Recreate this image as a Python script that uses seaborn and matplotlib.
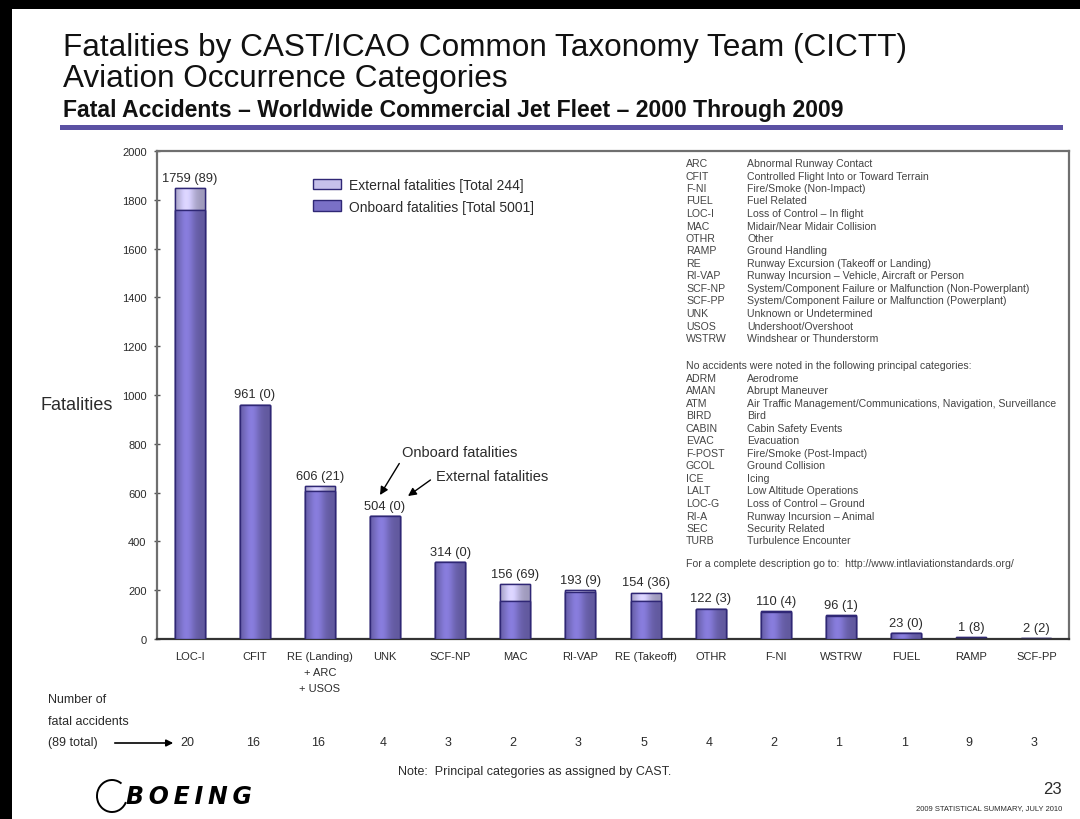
import numpy as np
import pandas as pd
import matplotlib
matplotlib.use("Agg")
import matplotlib.pyplot as plt
from matplotlib.patches import Rectangle, Patch, Arc, FancyArrowPatch
from matplotlib.transforms import offset_copy
import seaborn as sns

# ---- data -------------------------------------------------------------
categories = ["LOC-I", "CFIT", "RE (Landing)\n+ ARC\n+ USOS", "UNK", "SCF-NP", "MAC",
              "RI-VAP", "RE (Takeoff)", "OTHR", "F-NI", "WSTRW", "FUEL", "RAMP", "SCF-PP"]
onboard = [1759, 961, 606, 504, 314, 156, 193, 154, 122, 110, 96, 23, 1, 2]
external = [89, 0, 21, 0, 0, 69, 9, 36, 3, 4, 1, 0, 8, 2]
accidents = [20, 16, 16, 4, 3, 2, 3, 5, 4, 2, 1, 1, 9, 3]
y_ticks = [0, 200, 400, 600, 800, 1000, 1200, 1400, 1600, 1800, 2000]

codes_used = [
    ("ARC", "Abnormal Runway Contact"),
    ("CFIT", "Controlled Flight Into or Toward Terrain"),
    ("F-NI", "Fire/Smoke (Non-Impact)"),
    ("FUEL", "Fuel Related"),
    ("LOC-I", "Loss of Control \u2013 In flight"),
    ("MAC", "Midair/Near Midair Collision"),
    ("OTHR", "Other"),
    ("RAMP", "Ground Handling"),
    ("RE", "Runway Excursion (Takeoff or Landing)"),
    ("RI-VAP", "Runway Incursion \u2013 Vehicle, Aircraft or Person"),
    ("SCF-NP", "System/Component Failure or Malfunction (Non-Powerplant)"),
    ("SCF-PP", "System/Component Failure or Malfunction (Powerplant)"),
    ("UNK", "Unknown or Undetermined"),
    ("USOS", "Undershoot/Overshoot"),
    ("WSTRW", "Windshear or Thunderstorm"),
]
codes_unused = [
    ("ADRM", "Aerodrome"),
    ("AMAN", "Abrupt Maneuver"),
    ("ATM", "Air Traffic Management/Communications, Navigation, Surveillance"),
    ("BIRD", "Bird"),
    ("CABIN", "Cabin Safety Events"),
    ("EVAC", "Evacuation"),
    ("F-POST", "Fire/Smoke (Post-Impact)"),
    ("GCOL", "Ground Collision"),
    ("ICE", "Icing"),
    ("LALT", "Low Altitude Operations"),
    ("LOC-G", "Loss of Control \u2013 Ground"),
    ("RI-A", "Runway Incursion \u2013 Animal"),
    ("SEC", "Security Related"),
    ("TURB", "Turbulence Encounter"),
]

df = pd.DataFrame({
    "category": categories,
    "onboard": onboard,
    "external": external,
})
df["total"] = df["onboard"] + df["external"]

# ---- style ------------------------------------------------------------
sns.set_theme(style="white")
plt.rcParams["font.family"] = ["Liberation Sans", "DejaVu Sans"]
TXT = "#2b2b2b"
GLOSS = "#444444"

C_ON = "#7a70c6"
C_EXT = "#c6c0ea"
C_EDGE = "#2f2775"

W, H = 1080, 820
fig = plt.figure(figsize=(W / 100, H / 100), dpi=100)
fig.patch.set_facecolor("white")


def fx(px):
    return px / W


def fy(py):
    return 1 - py / H


ax = fig.add_axes([fx(157), fy(640), fx(1069) - fx(157), (640 - 152) / H])

# stacked bars: total (external on top) drawn first, onboard in front
sns.barplot(data=df, x="category", y="total", color=C_EXT, width=0.46,
            edgecolor=C_EDGE, linewidth=1.0, saturation=1, ax=ax, zorder=2)
sns.barplot(data=df, x="category", y="onboard", color=C_ON, width=0.46,
            edgecolor=C_EDGE, linewidth=1.0, saturation=1, ax=ax, zorder=3)


def shaded(rgb, n=80):
    t = np.linspace(0, 1, n)
    f = 0.80 + 0.32 * np.exp(-((t - 0.38) / 0.28) ** 2)
    return np.clip(np.array(rgb)[None, None, :] * f[None, :, None], 0, 1)


# cylinder-like shading on every bar segment
for cont, base, z in [(ax.containers[0], C_EXT, 2), (ax.containers[1], C_ON, 3)]:
    grad = shaded(matplotlib.colors.to_rgb(base))
    for bar in cont:
        x0, y0, w, h = bar.get_x(), bar.get_y(), bar.get_width(), bar.get_height()
        if h <= 0:
            continue
        im = ax.imshow(grad, extent=(x0, x0 + w, y0, y0 + h), aspect="auto",
                       zorder=z + 0.1, interpolation="bilinear")
        im.set_clip_path(bar)
        ax.add_patch(Rectangle((x0, y0), w, h, fill=False, ec=C_EDGE,
                               lw=1.0, zorder=z + 0.2))

ax.set_xlim(-0.5, len(categories) - 0.5)
ax.set_ylim(0, 2000)
ax.set_aspect("auto")
ax.set_yticks(y_ticks)
ax.set_yticklabels([str(v) for v in y_ticks], fontsize=8, color=TXT)
ax.set_xticks(range(len(categories)))
ax.set_xticklabels(categories, fontsize=8, color=TXT, linespacing=1.75,
                   va="top")
ax.tick_params(axis="x", length=0, pad=9)
ax.tick_params(axis="y", length=5, width=1, direction="inout", pad=5,
               color="#555555", left=True)
ax.set_xlabel("")
ax.set_ylabel("")

for side in ["top", "right", "left"]:
    ax.spines[side].set_color("#6f6f6f")
    ax.spines[side].set_linewidth(1.6)
ax.spines["bottom"].set_color("#333333")
ax.spines["bottom"].set_linewidth(1.6)

# value labels: onboard (external)
for i, (ob, ex, tot) in enumerate(zip(df["onboard"], df["external"], df["total"])):
    ax.annotate(f"{ob} ({ex})", xy=(i, tot), xytext=(0, 3),
                textcoords="offset points", ha="center", va="bottom",
                fontsize=9.3, color=TXT)

# explanatory arrows pointing at the UNK value label
unk = categories.index("UNK")
unk_top = df["total"][unk]
pt = 0.72  # points per pixel at 100 dpi
head_on = offset_copy(ax.transData, fig=fig, x=-5 * pt, y=21 * pt, units="points")
head_ex = offset_copy(ax.transData, fig=fig, x=23 * pt, y=20 * pt, units="points")
ax.annotate("Onboard fatalities", xy=(unk, unk_top), xycoords=head_on,
            xytext=(22 * pt, 43 * pt), textcoords="offset points",
            fontsize=10.5, color=TXT, ha="left", va="center",
            arrowprops=dict(arrowstyle="-|>", color="black", lw=1.0, relpos=(0, 0),
                            shrinkA=1, shrinkB=0, mutation_scale=12),
            annotation_clip=False)
ax.annotate("External fatalities", xy=(unk, unk_top), xycoords=head_ex,
            xytext=(28 * pt, 20 * pt), textcoords="offset points",
            fontsize=10.5, color=TXT, ha="left", va="center",
            arrowprops=dict(arrowstyle="-|>", color="black", lw=1.0, relpos=(0, 0.5),
                            shrinkA=2, shrinkB=0, mutation_scale=12),
            annotation_clip=False)

# legend
handles = [Patch(facecolor=C_EXT, edgecolor=C_EDGE, label="External fatalities [Total 244]"),
           Patch(facecolor=C_ON, edgecolor=C_EDGE, label="Onboard fatalities [Total 5001]")]
fig.legend(handles=handles, loc="upper left", bbox_to_anchor=(fx(306), fy(172)),
           frameon=False, fontsize=10, handlelength=2.0, handleheight=0.8,
           handletextpad=0.6, labelspacing=0.55, borderpad=0, labelcolor=TXT)

# "Fatalities" axis caption
fig.text(fx(40), fy(406), "Fatalities", fontsize=13, color=TXT, ha="left", va="center")

# abbreviation glossary
row = 12.5
gfs = 7.6
for k, (code, desc) in enumerate(codes_used):
    yy = 164 + k * row
    fig.text(fx(686), fy(yy), code, fontsize=gfs, color=GLOSS, va="center")
    fig.text(fx(747), fy(yy), desc, fontsize=gfs, color=GLOSS, va="center")
fig.text(fx(686), fy(366), "No accidents were noted in the following principal categories:",
         fontsize=gfs, color=GLOSS, va="center")
for k, (code, desc) in enumerate(codes_unused):
    yy = 379 + k * row
    fig.text(fx(686), fy(yy), code, fontsize=gfs, color=GLOSS, va="center")
    fig.text(fx(747), fy(yy), desc, fontsize=gfs, color=GLOSS, va="center")
fig.text(fx(686), fy(564), "For a complete description go to:  http://www.intlaviationstandards.org/",
         fontsize=gfs, color=GLOSS, va="center")

# accident counts row
fig.text(fx(48), fy(700), "Number of", fontsize=9, color=TXT, va="center")
fig.text(fx(48), fy(722), "fatal accidents", fontsize=9, color=TXT, va="center")
fig.text(fx(48), fy(743), "(89 total)", fontsize=9, color=TXT, va="center")
fig.add_artist(FancyArrowPatch(
    (fx(112), fy(744)), (fx(176), fy(744)), transform=fig.transFigure,
    arrowstyle="-|>", mutation_scale=10, color="black", lw=1.2))
for i, n in enumerate(accidents):
    xd = ax.transData.transform((i, 0))[0]
    xf = fig.transFigure.inverted().transform((xd, 0))[0]
    fig.text(xf - 2 / W, fy(743), str(n), fontsize=9, color=TXT, ha="center", va="center")

fig.text(fx(535), fy(772), "Note:  Principal categories as assigned by CAST.",
         fontsize=9, color=TXT, ha="center", va="center")

# header
fig.text(fx(63), fy(48), "Fatalities by CAST/ICAO Common Taxonomy Team (CICTT)",
         fontsize=22.7, color="#111111", va="center")
fig.text(fx(63), fy(79), "Aviation Occurrence Categories",
         fontsize=22.7, color="#111111", va="center")
fig.text(fx(63), fy(110), "Fatal Accidents \u2013 Worldwide Commercial Jet Fleet \u2013 2000 Through 2009",
         fontsize=16.6, fontweight="bold", color="#111111", va="center")
fig.add_artist(Rectangle((fx(60), fy(131)), fx(1063) - fx(60), 5 / H,
                         transform=fig.transFigure, color="#5b51a3", lw=0))

# footer
fig.add_artist(Arc((fx(112), fy(797)), 30 / W, 32 / H, theta1=60, theta2=330,
                   transform=fig.transFigure, color="black", lw=1.4))
fig.text(fx(126), fy(797), "B\u2009O\u2009E\u2009I\u2009N\u2009G", family=["DejaVu Sans"],
         fontsize=17, fontweight="bold", fontstyle="italic", color="black", va="center")
fig.text(fx(1062), fy(790), "23", fontsize=12, color=TXT, ha="right", va="center")
fig.text(fx(1062), fy(809), "2009 STATISTICAL SUMMARY, JULY 2010", fontsize=5.5,
         color=TXT, ha="right", va="center")

# page frame
fig.add_artist(Rectangle((0, fy(10)), 1, 10 / H, transform=fig.transFigure,
                         color="black", lw=0))
fig.add_artist(Rectangle((0, 0), 12 / W, 1, transform=fig.transFigure,
                         color="black", lw=0))

fig.savefig("out.png", dpi=100)
